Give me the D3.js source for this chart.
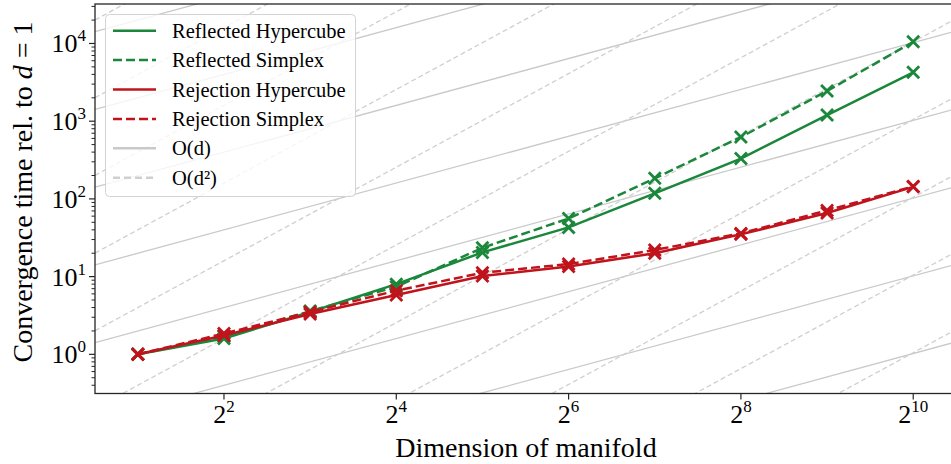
<!DOCTYPE html>
<html>
<head>
<meta charset="utf-8">
<script src="https://cdn.jsdelivr.net/npm/d3@7"></script>
<style>
  body { margin: 0; background: #fff; }
  svg { display: block; font-family: "Liberation Serif", "Times New Roman", serif; }
</style>
</head>
<body>
<div class="chart"></div>
<script>
// dimensions of manifold (x) and convergence times relative to d = 1
const dims = [2, 4, 8, 16, 32, 64, 128, 256, 512, 1024];
const reflectedHypercube = [1, 1.6, 3.5, 8.0, 20.5, 43, 118, 330, 1200, 4250];
const reflectedSimplex = [1, 1.7, 3.6, 7.4, 23.5, 56, 184, 625, 2450, 10500];
const rejectionHypercube = [1, 1.75, 3.3, 5.8, 10.2, 13.5, 20, 35, 66, 143];
const rejectionSimplex = [1, 1.85, 3.5, 6.6, 11.2, 14.5, 22, 36, 71, 145];

// reference guide lines: y = c*d and y = c*d^2 for c = 10^k
const linearCoefs = [1e-3, 1e-2, 1e-1, 1, 1e1, 1e2, 1e3, 1e4];
const quadCoefs = [1e-6, 1e-5, 1e-4, 1e-3, 1e-2, 1e-1, 1, 1e1, 1e2, 1e3, 1e4];

const xTickPowers = [2, 4, 6, 8, 10];
const yTickPowers = [0, 1, 2, 3, 4];

const series = [
    {name: 'Reflected Hypercube', values: reflectedHypercube, color: '#1b873b', dash: null},
    {name: 'Reflected Simplex', values: reflectedSimplex, color: '#1b873b', dash: '9,4'},
    {name: 'Rejection Hypercube', values: rejectionHypercube, color: '#c0141d', dash: null},
    {name: 'Rejection Simplex', values: rejectionSimplex, color: '#c0141d', dash: '9,4'}
];

const width = 951, height = 464;
const plot = {left: 95, right: 952, top: 4, bottom: 393.5};

const svg = d3.select('.chart').append('svg')
    .attr('width', width)
    .attr('height', height);

const x = d3.scaleLog().base(2)
    .domain([Math.pow(2, 0.503), Math.pow(2, 10.45)])
    .range([plot.left, plot.right]);
const y = d3.scaleLog()
    .domain([Math.pow(10, -0.504), Math.pow(10, 4.508)])
    .range([plot.bottom, plot.top]);

svg.append('clipPath').attr('id', 'clip')
    .append('rect')
    .attr('x', plot.left).attr('y', plot.top)
    .attr('width', plot.right - plot.left).attr('height', plot.bottom - plot.top);

const g = svg.append('g').attr('clip-path', 'url(#clip)');

// guide lines
const [x0, x1] = x.domain();
const guide = d3.line().x(d => x(d[0])).y(d => y(d[1]));
linearCoefs.forEach(c => {
    g.append('path')
        .attr('d', guide([[x0, c * x0], [x1, c * x1]]))
        .attr('fill', 'none')
        .attr('stroke', '#c9c9c9')
        .attr('stroke-width', 1.3);
});
quadCoefs.forEach(c => {
    g.append('path')
        .attr('d', guide([[x0, c * x0 * x0], [x1, c * x1 * x1]]))
        .attr('fill', 'none')
        .attr('stroke', '#cfcfcf')
        .attr('stroke-width', 1.3)
        .attr('stroke-dasharray', '5,3');
});

// data lines
const line = d3.line().x((d, i) => x(dims[i])).y(d => y(d));
series.forEach(s => {
    g.append('path')
        .attr('d', line(s.values))
        .attr('fill', 'none')
        .attr('stroke', s.color)
        .attr('stroke-width', 2.5)
        .attr('stroke-dasharray', s.dash);
    const m = 6;
    g.selectAll(null)
        .data(s.values)
        .enter().append('path')
        .attr('d', (d, i) => {
            const px = x(dims[i]), py = y(d);
            return 'M' + (px - m) + ',' + (py - m) + 'L' + (px + m) + ',' + (py + m) +
                   'M' + (px - m) + ',' + (py + m) + 'L' + (px + m) + ',' + (py - m);
        })
        .attr('stroke', s.color)
        .attr('stroke-width', 2.8)
        .attr('fill', 'none');
});

// spines
const spine = '#262626';
svg.append('rect')
    .attr('x', plot.left).attr('y', plot.top)
    .attr('width', plot.right - plot.left).attr('height', plot.bottom - plot.top)
    .attr('fill', 'none').attr('stroke', spine).attr('stroke-width', 1.3);

// x ticks
xTickPowers.forEach(p => {
    const px = x(Math.pow(2, p));
    svg.append('line')
        .attr('x1', px).attr('x2', px)
        .attr('y1', plot.bottom).attr('y2', plot.bottom + 6)
        .attr('stroke', spine).attr('stroke-width', 1.2);
    const t = svg.append('text')
        .attr('x', px).attr('y', 423)
        .attr('text-anchor', 'middle')
        .attr('font-size', 26);
    t.append('tspan').text('2');
    t.append('tspan').attr('dy', -11).attr('font-size', 17).text(p);
});

// y ticks
yTickPowers.forEach(p => {
    const py = y(Math.pow(10, p));
    svg.append('line')
        .attr('x1', plot.left - 6).attr('x2', plot.left)
        .attr('y1', py).attr('y2', py)
        .attr('stroke', spine).attr('stroke-width', 1.2);
    const t = svg.append('text')
        .attr('x', 86).attr('y', py + 9)
        .attr('text-anchor', 'end')
        .attr('font-size', 26);
    t.append('tspan').text('10');
    t.append('tspan').attr('dy', -11).attr('font-size', 17).text(p);
});
// minor y ticks
const [ylo, yhi] = y.domain();
for (let k = -1; k <= 4; k++) {
    for (let j = 2; j <= 9; j++) {
        const v = j * Math.pow(10, k);
        if (v < ylo || v > yhi) continue;
        svg.append('line')
            .attr('x1', plot.left - 3.5).attr('x2', plot.left)
            .attr('y1', y(v)).attr('y2', y(v))
            .attr('stroke', spine).attr('stroke-width', 1);
    }
}

// axis labels
svg.append('text')
    .attr('x', 526).attr('y', 457)
    .attr('text-anchor', 'middle')
    .attr('font-size', 28)
    .text('Dimension of manifold');

const yl = svg.append('text')
    .attr('transform', 'translate(32,192) rotate(-90)')
    .attr('text-anchor', 'middle')
    .attr('font-size', 28);
yl.append('tspan').text('Convergence time rel. to ');
yl.append('tspan').attr('font-style', 'italic').text('d');
yl.append('tspan').text(' = 1');

// legend
const legendItems = series.map(s => ({name: s.name, color: s.color, dash: s.dash}))
    .concat([
        {name: 'O(d)', color: '#c9c9c9', dash: null},
        {name: 'O(d²)', color: '#cfcfcf', dash: '7,4'}
    ]);
const lg = svg.append('g');
lg.append('rect')
    .attr('x', 105.5).attr('y', 14.5)
    .attr('width', 250).attr('height', 182)
    .attr('rx', 4)
    .attr('fill', '#fff').attr('fill-opacity', 0.8)
    .attr('stroke', '#d3d3d3').attr('stroke-width', 1);
legendItems.forEach((d, i) => {
    const cy = 30.7 + i * 29.4;
    lg.append('line')
        .attr('x1', 113).attr('x2', 156)
        .attr('y1', cy).attr('y2', cy)
        .attr('stroke', d.color)
        .attr('stroke-width', 2.5)
        .attr('stroke-dasharray', d.dash);
    lg.append('text')
        .attr('x', 172).attr('y', cy + 7)
        .attr('font-size', 20.5)
        .text(d.name);
});
</script>
</body>
</html>
